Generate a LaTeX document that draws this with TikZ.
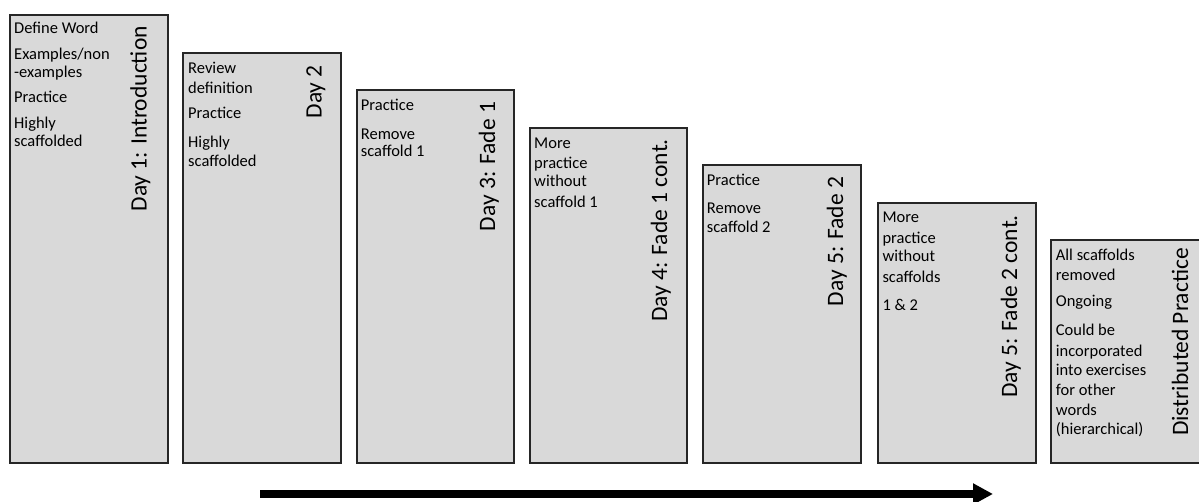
\documentclass[tikz,border=0pt]{standalone}
\usepackage{fontspec}
\setmainfont{Carlito}
\usetikzlibrary{arrows.meta}
\definecolor{boxfill}{HTML}{D9D9D9}
\definecolor{boxline}{HTML}{262626}
\tikzset{
  stagebox/.style={draw=boxline, fill=boxfill, line width=1.8pt, inner sep=0pt, outer sep=0pt, anchor=south west},
  bodytext/.style={anchor=north west, inner sep=0pt, align=left, font=\fontsize{16.5}{17.5}\selectfont, text=black},
  daytitle/.style={anchor=base east, rotate=90, inner sep=0pt, font=\fontsize{23.5}{28}\selectfont, text=black},
  bigarrow/.style={line width=7.5pt, -{Triangle[length=20pt 0, width=20pt 0]}},
}
\newcommand\firstline{\rule{0pt}{14pt}}
\begin{document}
\begin{tikzpicture}[x=1pt,y=1pt]
\clip (0,0) rectangle (1199,502);
% boxes
\node[stagebox, minimum width=158, minimum height=448] (b1) at (10,39) {};
\node[stagebox, minimum width=158, minimum height=410] (b2) at (183,39) {};
\node[stagebox, minimum width=157, minimum height=373] (b3) at (357,39) {};
\node[stagebox, minimum width=157, minimum height=335] (b4) at (530,39) {};
\node[stagebox, minimum width=158, minimum height=298] (b5) at (703,39) {};
\node[stagebox, minimum width=158, minimum height=260] (b6) at (878,39) {};
\node[stagebox, minimum width=158, minimum height=223] (b7) at (1051,39) {};
% body texts
\node[bodytext] (t1) at (14,482.7) {\firstline Define Word\\[9pt] Examples/non\\ -examples\\[7.5pt] Practice\\[9pt] Highly\\ scaffolded};
\node[bodytext] (t2) at (188,442.7) {\firstline Review\\[2.5pt] definition\\[8pt] Practice\\[11pt] Highly\\[2pt] scaffolded};
\node[bodytext] (t3) at (360.7,406) {\firstline Practice\\[11.5pt] Remove\\ scaffold 1};
\node[bodytext] (t4) at (534,367.7) {\firstline More\\[2.5pt] practice\\[1pt] without\\[3pt] scaffold 1};
\node[bodytext] (t5) at (706.7,331) {\firstline Practice\\[11pt] Remove\\[1pt] scaffold 2};
\node[bodytext] (t6) at (882.3,293.3) {\firstline More\\[3pt] practice\\[1pt] without\\[3pt] scaffolds\\[11pt] 1 \& 2};
\node[bodytext] (t7) at (1055.7,255.3) {\firstline All scaffolds\\[2.5pt] removed\\[8.5pt] Ongoing\\[11pt] Could be\\[4pt] incorporated\\[1pt] into exercises\\[2.5pt] for other\\[3pt] words\\[1pt] (hierarchical)};
% titles
\node[daytitle] (d1) at (146.7,476) {Day 1: Introduction};
\node[daytitle] (d2) at (321.7,437) {Day 2};
\node[daytitle] (d3) at (495,400.3) {Day 3: Fade 1};
\node[daytitle] (d4) at (667,363) {Day 4: Fade 1 cont.};
\node[daytitle] (d5) at (843,325.3) {Day 5: Fade 2};
\node[daytitle] (d6) at (1017,287) {Day 5: Fade 2 cont.};
\node[daytitle] (d7) at (1188,254) {Distributed Practice};
% arrow
\coordinate (as) at (260,8);
\coordinate (ae) at (993,8);
\draw[bigarrow] (as) -- (ae);
\end{tikzpicture}
\end{document}
